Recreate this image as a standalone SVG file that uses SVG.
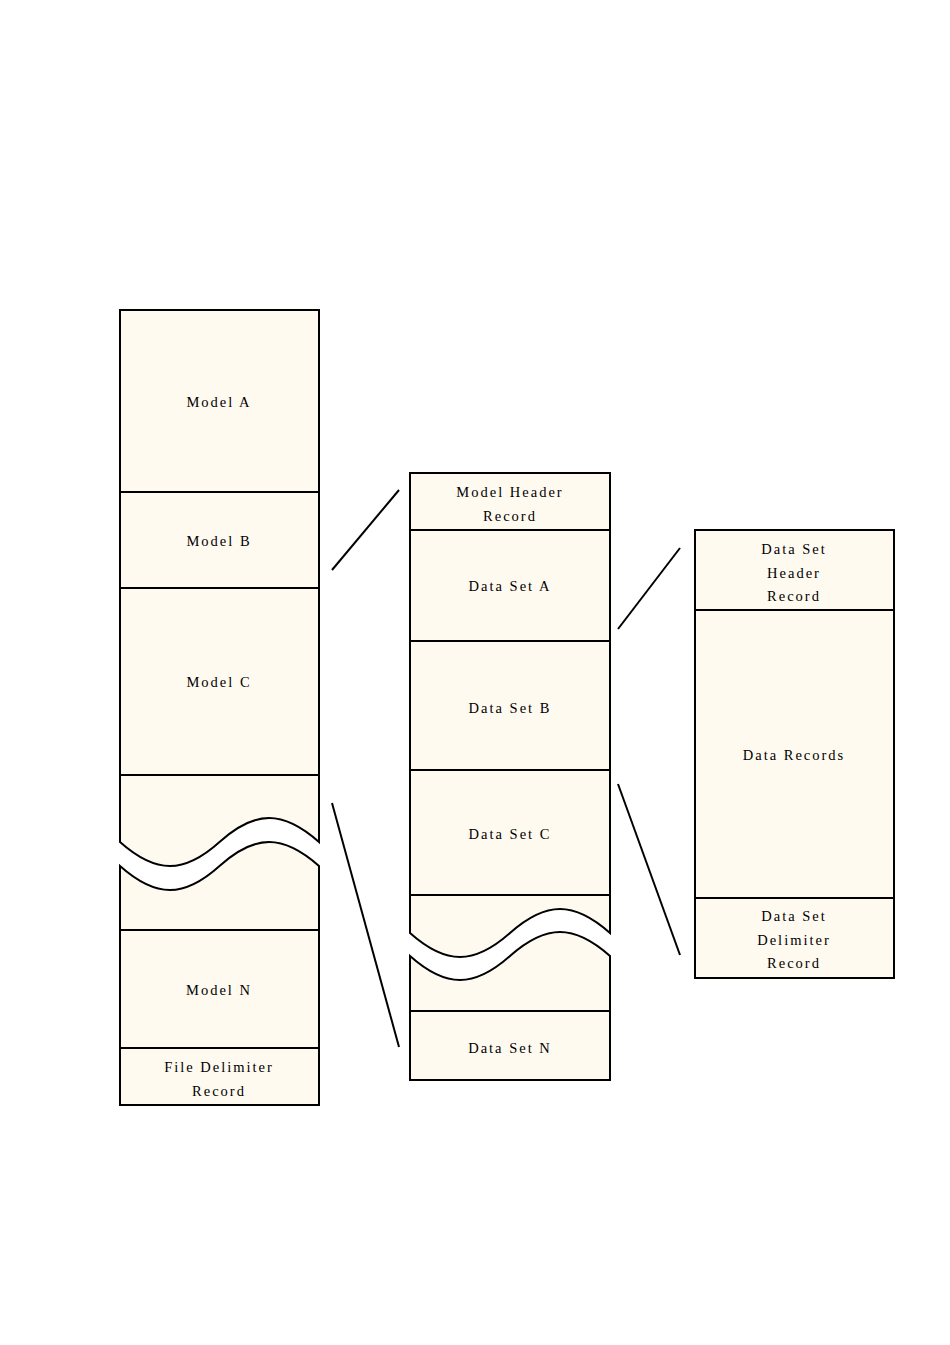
<svg xmlns="http://www.w3.org/2000/svg" width="950" height="1345" viewBox="0 0 950 1345">
<style>
.b{fill:#FFFAF0;stroke:#000;stroke-width:2;stroke-linejoin:miter}
.t{font-family:"Liberation Serif",serif;font-size:14.5px;letter-spacing:2px;text-anchor:middle;fill:#000}
.c{stroke:#000;stroke-width:2;fill:none}
</style>
<rect width="950" height="1345" fill="#fff"/>
<g id="model-a"><rect class="b" x="120" y="310" width="199" height="182"/><text class="t" x="219" y="407">Model A</text></g>
<g id="model-b"><rect class="b" x="120" y="492" width="199" height="96"/><text class="t" x="219" y="546">Model B</text></g>
<g id="model-c"><rect class="b" x="120" y="588" width="199" height="187"/><text class="t" x="219" y="687">Model C</text></g>
<g id="model-break-top"><path class="b" d="M120,775 H319 V842 C283,810 255,810 219.5,842 C184,874 156,874 120,842 Z"/></g>
<g id="model-break-bottom"><path class="b" d="M120,866 C156,898 184,898 219.5,866 C255,834 283,834 319,866 V930 H120 Z"/></g>
<g id="model-n"><rect class="b" x="120" y="930" width="199" height="118"/><text class="t" x="219" y="995">Model N</text></g>
<g id="file-delimiter"><rect class="b" x="120" y="1048" width="199" height="57"/><text class="t" x="219" y="1072">File Delimiter</text><text class="t" x="219" y="1096">Record</text></g>

<g id="model-header"><rect class="b" x="410" y="473" width="200" height="57"/><text class="t" x="510" y="497">Model Header</text><text class="t" x="510" y="521">Record</text></g>
<g id="data-set-a"><rect class="b" x="410" y="530" width="200" height="111"/><text class="t" x="510" y="591">Data Set A</text></g>
<g id="data-set-b"><rect class="b" x="410" y="641" width="200" height="129"/><text class="t" x="510" y="713">Data Set B</text></g>
<g id="data-set-c"><rect class="b" x="410" y="770" width="200" height="125"/><text class="t" x="510" y="839">Data Set C</text></g>
<g id="dataset-break-top"><path class="b" d="M410,895 H610 V933 C574,901 546,901 510,933 C474,965 446,965 410,933 Z"/></g>
<g id="dataset-break-bottom"><path class="b" d="M410,956 C446,988 474,988 510,956 C546,924 574,924 610,956 V1011 H410 Z"/></g>
<g id="data-set-n"><rect class="b" x="410" y="1011" width="200" height="69"/><text class="t" x="510" y="1053">Data Set N</text></g>

<g id="data-set-header"><rect class="b" x="695" y="530" width="199" height="80"/><text class="t" x="794" y="554">Data Set</text><text class="t" x="794" y="578">Header</text><text class="t" x="794" y="601">Record</text></g>
<g id="data-records"><rect class="b" x="695" y="610" width="199" height="288"/><text class="t" x="794" y="760">Data Records</text></g>
<g id="data-set-delimiter"><rect class="b" x="695" y="898" width="199" height="80"/><text class="t" x="794" y="921">Data Set</text><text class="t" x="794" y="945">Delimiter</text><text class="t" x="794" y="968">Record</text></g>

<g id="connectors">
<line class="c" x1="332" y1="570" x2="399" y2="490"/>
<line class="c" x1="332" y1="803" x2="399" y2="1047"/>
<line class="c" x1="618" y1="629" x2="680" y2="548"/>
<line class="c" x1="618" y1="784" x2="680" y2="955"/>
</g>
</svg>
